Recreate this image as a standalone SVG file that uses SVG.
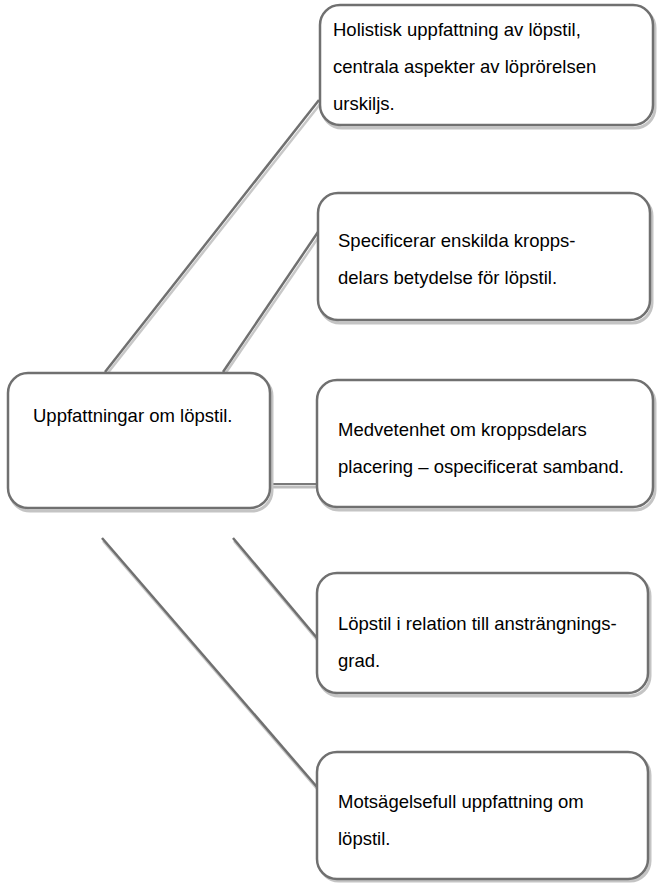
<svg xmlns="http://www.w3.org/2000/svg" width="657" height="883" viewBox="0 0 657 883">
<style>
.box{fill:#fff;stroke:#707070;stroke-width:2.5}
.sh{fill:none;stroke:#c4c4c4;stroke-width:3}
.ln{stroke:#707070;stroke-width:2.5;fill:none}
.lns{stroke:#c8c8c8;stroke-width:2.5;fill:none}
text{font-family:"Liberation Sans",Arial,sans-serif;font-size:18.5px;fill:#000}
</style>
<rect width="657" height="883" fill="#fff"/>
<g id="connectors">
  <line class="lns" x1="107" y1="374" x2="321" y2="103"/>
  <line class="ln" x1="105" y1="372" x2="319" y2="100"/>
  <line class="lns" x1="225" y1="374" x2="320" y2="235"/>
  <line class="ln" x1="223" y1="372" x2="318" y2="232"/>
  <line x1="270" y1="487" x2="317" y2="487" stroke="#bdbdbd" stroke-width="3"/>
  <line x1="270" y1="484" x2="317" y2="484" stroke="#7a7a7a" stroke-width="2"/>
  <line class="lns" x1="234" y1="541" x2="318" y2="641"/>
  <line class="ln" x1="233" y1="538" x2="317" y2="638"/>
  <line class="lns" x1="103" y1="541" x2="318" y2="790"/>
  <line class="ln" x1="102" y1="538" x2="317" y2="787"/>
</g>
<g id="center">
  <rect class="sh" x="10" y="376" width="262" height="135" rx="20"/>
  <rect class="box" x="8" y="373" width="262" height="135" rx="20"/>
  <text x="33" y="422">Uppfattningar om löpstil.</text>
</g>
<g id="n1">
  <rect class="sh" x="322" y="8" width="333" height="120" rx="20"/>
  <rect class="box" x="320" y="5" width="333" height="120" rx="20"/>
  <text x="333" y="36">Holistisk uppfattning av löpstil,</text>
  <text x="333" y="73">centrala aspekter av löprörelsen</text>
  <text x="333" y="110">urskiljs.</text>
</g>
<g id="n2">
  <rect class="sh" x="320" y="196" width="332" height="127" rx="20"/>
  <rect class="box" x="318" y="193" width="332" height="127" rx="20"/>
  <text x="338" y="247">Specificerar enskilda kropps-</text>
  <text x="338" y="284">delars betydelse för löpstil.</text>
</g>
<g id="n3">
  <rect class="sh" x="319" y="383" width="336" height="127" rx="20"/>
  <rect class="box" x="317" y="380" width="336" height="127" rx="20"/>
  <text x="338" y="436">Medvetenhet om kroppsdelars</text>
  <text x="338" y="473">placering – ospecificerat samband.</text>
</g>
<g id="n4">
  <rect class="sh" x="319" y="576" width="331" height="120" rx="20"/>
  <rect class="box" x="317" y="573" width="331" height="120" rx="20"/>
  <text x="338" y="630">Löpstil i relation till ansträngnings-</text>
  <text x="338" y="667">grad.</text>
</g>
<g id="n5">
  <rect class="sh" x="319" y="755" width="331" height="126" rx="20"/>
  <rect class="box" x="317" y="752" width="331" height="127" rx="20"/>
  <text x="338" y="808">Motsägelsefull uppfattning om</text>
  <text x="338" y="845">löpstil.</text>
</g>
</svg>
